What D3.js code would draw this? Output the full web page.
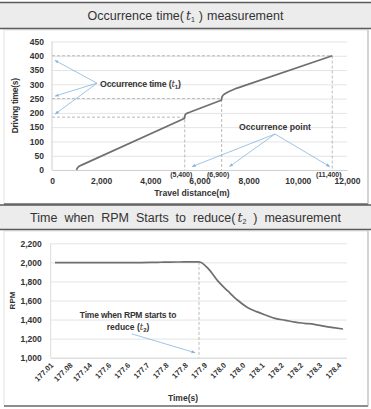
<!DOCTYPE html>
<html>
<head>
<meta charset="utf-8">
<script src="https://cdn.jsdelivr.net/npm/d3@7"></script>
<style>
body { margin: 0; background: #fff; }
svg { font-family: "Liberation Sans", Arial, sans-serif; }
.tick text { font-weight: bold; fill: #333; }
</style>
</head>
<body>
<script>
const width = 371, height = 409;

// top chart: driving time against travel distance
const distance    = [1000, 1020, 1060, 1120, 1200, 5380, 5400, 5410, 5440, 5500, 5600, 6880, 6900, 6915, 6960, 7050, 7200, 7500, 11400];
const drivingTime = [0, 5, 10, 14, 17, 180, 184, 192, 196, 199, 202, 244, 248, 256, 262, 268, 275, 286, 400];
const occurDistance = [5400, 6900, 11400];
const occurTime     = [185, 250, 400];
const occurLabels   = ['(5,400)', '(6,900)', '(11,400)'];
const distanceTicks = [0, 2000, 4000, 6000, 8000, 10000, 12000];
const timeTicks     = [0, 50, 100, 150, 200, 250, 300, 350, 400, 450];

// bottom chart: RPM against time (labels shown on every other sample)
const timeLabels = ['177.01', '177.08', '177.14', '177.6', '177.6', '177.7', '177.8', '177.8',
                    '177.9', '178.0', '178.0', '178.1', '178.2', '178.2', '178.3', '178.4'];
const rpm = [1998, 1998, 1998, 1998, 1998, 1998, 1998, 1998, 1998, 1998,
             1999, 2001, 2003, 2004, 2005, 2005, 1930, 1800, 1700, 1605,
             1530, 1483, 1445, 1410, 1392, 1373, 1361, 1350, 1332, 1316, 1301];
const rpmTicks = [1000, 1200, 1400, 1600, 1800, 2000, 2200];
const dropIndex = 15;

const arrowColor = '#86b5df', lineColor = '#6f6f6f', gridColor = '#e4e4e4', dashColor = '#a8a8a8';

const svg = d3.select('body').append('svg')
    .attr('width', width)
    .attr('height', height);

svg.append('defs').append('marker')
    .attr('id', 'arr')
    .attr('viewBox', '0 0 10 10')
    .attr('refX', 9).attr('refY', 5)
    .attr('markerWidth', 5).attr('markerHeight', 5)
    .attr('orient', 'auto')
  .append('path')
    .attr('d', 'M0,1L10,5L0,9z')
    .attr('fill', arrowColor);

function titleBar(y0, y1, parts, wordSpacing) {
    svg.append('rect').attr('x', 0).attr('y', y0).attr('width', width).attr('height', y1 - y0).attr('fill', '#ececec');
    [y0, y1].forEach(y => svg.append('line')
        .attr('x1', 0).attr('x2', width).attr('y1', y).attr('y2', y)
        .attr('stroke', '#5a5a5a').attr('stroke-width', 1.5));
    const t = svg.append('text')
        .attr('x', width / 2).attr('y', (y0 + y1) / 2 + 4.5)
        .attr('text-anchor', 'middle')
        .style('font-size', '12.5px').style('fill', '#333').style('word-spacing', wordSpacing + 'px');
    t.append('tspan').text(parts[0]);
    t.append('tspan').text('t').style('font-style', 'italic').style('font-family', '"DejaVu Serif", serif').attr('dx', 2);
    t.append('tspan').text(parts[1]).style('font-size', '7px').attr('dy', 2);
    t.append('tspan').text(' ) ' + parts[2]).attr('dy', -2);
}

function chartBox(y0, y1) {
    svg.append('rect').attr('x', 4).attr('y', y0).attr('width', 364).attr('height', y1 - y0)
        .attr('fill', 'none').attr('stroke', '#e2e2e2');
    svg.append('line').attr('x1', 4).attr('x2', 368).attr('y1', y1).attr('y2', y1)
        .attr('stroke', '#8c8c8c').attr('stroke-width', 2);
    svg.append('line').attr('x1', 368).attr('x2', 368).attr('y1', y0).attr('y2', y1)
        .attr('stroke', '#b5b5b5');
}

function boldText(g, x, y, str, size, anchor) {
    return g.append('text').attr('x', x).attr('y', y)
        .attr('text-anchor', anchor || 'middle')
        .style('font-size', size + 'px').style('font-weight', 'bold').style('fill', '#333')
        .text(str);
}

// ---------- top chart ----------
function renderTop() {
    const x = d3.scaleLinear().domain([0, 12000]).range([52, 347]);
    const y = d3.scaleLinear().domain([0, 450]).range([170, 41.5]);
    const g = svg.append('g');

    g.append('g')
        .attr('transform', 'translate(52,0)')
        .call(d3.axisLeft(y).tickValues(timeTicks).tickSize(-295).tickPadding(8))
        .call(a => a.select('.domain').remove())
        .call(a => a.selectAll('.tick line').attr('stroke', gridColor))
        .call(a => a.selectAll('.tick text').style('font-size', '8.5px'));

    g.append('g')
        .attr('transform', 'translate(0,170)')
        .call(d3.axisBottom(x).tickValues(distanceTicks).tickFormat(d3.format(',')).tickSize(0).tickPadding(8))
        .call(a => a.select('.domain').attr('stroke', '#cfcfcf'))
        .call(a => a.selectAll('.tick text').style('font-size', '8.5px'));

    g.append('line').attr('x1', 52).attr('x2', 52).attr('y1', y(450)).attr('y2', y(0)).attr('stroke', '#cfcfcf');

    // dashed guide lines for each occurrence
    occurDistance.forEach((d, i) => {
        g.append('path')
            .attr('d', `M${x(0)},${y(occurTime[i])}H${x(d)}V${y(0)}`)
            .attr('fill', 'none').attr('stroke', dashColor)
            .attr('stroke-width', 0.8).attr('stroke-dasharray', '3,2');
        boldText(g, x(d) - 3.5, 176.5, occurLabels[i], 7);
    });

    const line = d3.line().x((d, i) => x(distance[i])).y(d => y(d));
    g.append('path').datum(drivingTime)
        .attr('d', line)
        .attr('fill', 'none').attr('stroke', lineColor).attr('stroke-width', 1.7)
        .attr('stroke-linejoin', 'round');

    // annotations
    const src1 = [1830, 304];
    [[120, 384], [130, 259], [130, 196]].forEach(t => g.append('line')
        .attr('x1', x(src1[0])).attr('y1', y(src1[1]))
        .attr('x2', x(t[0])).attr('y2', y(t[1]))
        .attr('stroke', arrowColor).attr('stroke-width', 0.8).attr('marker-end', 'url(#arr)'));
    const a1 = boldText(g, 100, 87, 'Occurrence time (', 8.8, 'start').style('letter-spacing', '-0.2px');
    a1.append('tspan').text('t').style('font-style', 'italic').style('font-weight', 'normal').style('font-family', '"DejaVu Serif", serif');
    a1.append('tspan').text('1').style('font-size', '6px').attr('dy', 2);
    a1.append('tspan').text(')').attr('dy', -2);

    const src2 = [9070, 126];
    [[5700, 12], [7220, 12], [11300, 12]].forEach(t => g.append('line')
        .attr('x1', x(src2[0])).attr('y1', y(src2[1]))
        .attr('x2', x(t[0])).attr('y2', y(t[1]))
        .attr('stroke', arrowColor).attr('stroke-width', 0.8).attr('marker-end', 'url(#arr)'));
    boldText(g, 275, 130, 'Occurrence point', 8.7);

    boldText(g, 192, 196, 'Travel distance(m)', 8.6);
    boldText(g, 0, 0, 'Driving time(s)', 8.5)
        .attr('transform', `translate(18,${(y(0) + y(450)) / 2}) rotate(-90)`)
        .style('letter-spacing', '-0.3px');
}

// ---------- bottom chart ----------
function renderBottom() {
    const x = d3.scaleLinear().domain([0, rpm.length - 1]).range([55, 343]);
    const y = d3.scaleLinear().domain([1000, 2200]).range([357.7, 243.3]);
    const g = svg.append('g');

    g.append('g')
        .attr('transform', 'translate(50.7,0)')
        .call(d3.axisLeft(y).tickValues(rpmTicks).tickFormat(d3.format(',')).tickSize(-296.3).tickPadding(9))
        .call(a => a.select('.domain').remove())
        .call(a => a.selectAll('.tick line').attr('stroke', d => d === 1000 ? '#cfcfcf' : gridColor))
        .call(a => a.selectAll('.tick text').style('font-size', '8.5px'));

    g.append('line').attr('x1', 50.7).attr('x2', 50.7).attr('y1', y(2200)).attr('y2', y(1000)).attr('stroke', '#dcdcdc');

    g.selectAll('text.xl').data(timeLabels).join('text')
        .attr('class', 'xl')
        .attr('text-anchor', 'end')
        .attr('transform', (d, i) => `translate(${x(i * 2) - 1},${y(1000) + 8}) rotate(-45)`)
        .style('font-size', '7.5px').style('font-weight', 'bold').style('fill', '#333')
        .text(d => d);

    g.append('line')
        .attr('x1', x(dropIndex)).attr('x2', x(dropIndex))
        .attr('y1', y(rpm[dropIndex])).attr('y2', y(1000))
        .attr('stroke', dashColor).attr('stroke-width', 0.8).attr('stroke-dasharray', '3,2');

    const line = d3.line().x((d, i) => x(i)).y(d => y(d)).curve(d3.curveMonotoneX);
    g.append('path').datum(rpm)
        .attr('d', line)
        .attr('fill', 'none').attr('stroke', lineColor).attr('stroke-width', 1.7);

    g.append('line')
        .attr('x1', x(8)).attr('y1', y(1250))
        .attr('x2', x(14.6)).attr('y2', y(1052))
        .attr('stroke', arrowColor).attr('stroke-width', 0.8).attr('marker-end', 'url(#arr)');
    boldText(g, 128, 318, 'Time when RPM starts to', 8.5).style('letter-spacing', '-0.2px');
    const a2 = boldText(g, 128, 330, 'reduce (', 8.5);
    a2.append('tspan').text('t').style('font-style', 'italic').style('font-weight', 'normal').style('font-family', '"DejaVu Serif", serif');
    a2.append('tspan').text('2').style('font-size', '6px').attr('dy', 2);
    a2.append('tspan').text(')').attr('dy', -2);

    boldText(g, 183, 401, 'Time(s)', 8.5);
    boldText(g, 0, 0, 'RPM', 8)
        .attr('transform', `translate(15,${(y(1000) + y(2200)) / 2}) rotate(-90)`);
}

chartBox(30, 204);
chartBox(231, 406);
titleBar(2.5, 28.5, ['Occurrence time(', '1', 'measurement'], 0.5);
titleBar(205, 229.5, ['Time when RPM Starts to reduce(', '2', 'measurement'], 3.5);
renderTop();
renderBottom();
</script>
</body>
</html>
